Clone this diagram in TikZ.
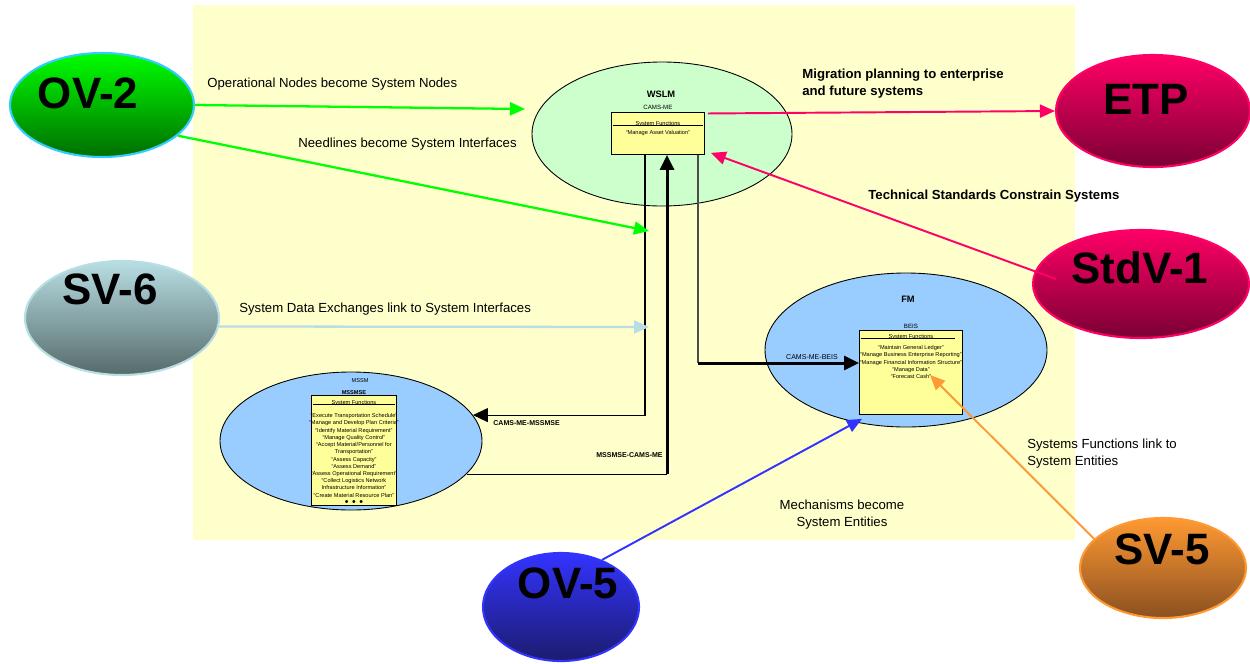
\documentclass[tikz,border=0pt]{standalone}
\usepackage{fontspec}
\setmainfont{Liberation Sans}
\usetikzlibrary{arrows.meta,positioning,shapes.geometric}
\definecolor{canvas}{HTML}{FFFFCC}
\definecolor{wslmgreen}{HTML}{CCFFCC}
\definecolor{sysblue}{HTML}{99CCFF}
\definecolor{fnyellow}{HTML}{FFFF99}
\definecolor{ovgreen}{HTML}{00FF00}
\definecolor{ovgreendk}{HTML}{006E00}
\definecolor{edgecyan}{HTML}{33CCFF}
\definecolor{etpred}{HTML}{FF0066}
\definecolor{etpreddk}{HTML}{7A0033}
\definecolor{svgrey}{HTML}{B8DEE3}
\definecolor{svgreydk}{HTML}{566A6A}
\definecolor{svorange}{HTML}{FF9933}
\definecolor{svorangedk}{HTML}{8A5020}
\definecolor{ovblue}{HTML}{3333FF}
\definecolor{ovbluedk}{HTML}{1C1C6E}
\newcommand{\sz}[2]{\fontsize{#1}{#2}\selectfont}
\tikzset{
  viewpt/.style={ellipse, inner sep=0pt, line width=1.2pt},
  viewtag/.style={font=\sz{25}{30}\bfseries, inner sep=0pt},
  sysnode/.style={ellipse, draw=black, line width=0.5pt, inner sep=0pt},
  sysname/.style={font=\sz{5.3}{6}\bfseries, inner sep=0pt},
  fnbox/.style={draw=black, fill=fnyellow, line width=0.5pt, inner sep=0pt,
                anchor=north west},
  fnowner/.style={font=\sz{3.5}{4}, inner sep=0pt},
  fntitle/.style={font=\sz{3.2}{4}, inner sep=0.4pt},
  fnlist/.style={font=\sz{3.2}{4.1}, align=center, inner sep=0pt},
  note/.style={font=\sz{7.5}{9.6}, align=left, inner sep=0pt},
  wiretag/.style={font=\sz{4}{5}, inner sep=0pt, anchor=base west},
  link/.style={-{Triangle[length=3mm, width=2.6mm]}, line width=1.3pt},
  wire/.style={line width=0.6pt},
  bus/.style={-{Triangle[length=3mm, width=2.8mm]}, line width=1.7pt},
}

\begin{document}
\begin{tikzpicture}[x=0.2mm, y=-0.2mm]
\useasboundingbox (0,0) rectangle (1250,663);
\fill[canvas] (193,5) rectangle (1075,540);

% systems
\node[sysnode, fill=wslmgreen, minimum width=52mm, minimum height=28.8mm] (wslm) at (662,134) {};
\node[sysnode, fill=sysblue, minimum width=56.4mm, minimum height=30.8mm] (fm) at (906,350) {};
\node[sysnode, fill=sysblue, minimum width=52.4mm, minimum height=27.6mm] (mssm) at (351,441) {};

% WSLM functions
\node[sysname] (wslmname) at (661,94) {WSLM};
\node[fnbox, minimum width=18.6mm, minimum height=8.4mm] (wsbox) at (611,112) {};
\node[fnowner, above=0.4mm of wsbox] (wsown) {CAMS-ME};
\node[fntitle, below=1.6mm of wsbox.north] (wsttl) {System Functions};
\draw[line width=0.4pt] ([xshift=0.3mm]wsbox.west |- wsttl.base) -- ([xshift=-0.3mm]wsbox.east |- wsttl.base);
\node[fnlist, below=0.6mm of wsttl] (wsfns) {``Manage Asset Valuation''};

% FM functions
\node[sysname] (fmname) at (908,299) {FM};
\node[fnbox, minimum width=20.6mm, minimum height=16.8mm] (fmbox) at (859,330) {};
\node[fnowner, above=0.3mm of fmbox] (fmown) {BEIS};
\node[fntitle, below=0.6mm of fmbox.north] (fmttl) {System Functions};
\draw[line width=0.4pt] ([xshift=0.3mm]fmbox.west |- fmttl.base) -- ([xshift=-1.6mm]fmbox.east |- fmttl.base);
\node[fnlist, below=1mm of fmttl] (fmfns) {``Maintain General Ledger''\\
  ``Manage Business Enterprise Reporting''\\
  ``Manage Financial Information Structure''\\
  ``Manage Data''\\``Forecast Cash''};

% MSSM functions
\node[fnowner, font=\sz{3.2}{4}] (mssmname) at (360,381) {MSSM};
\node[fnbox, minimum width=17mm, minimum height=22mm] (mssmbox) at (311,395) {};
\node[fnowner, font=\sz{3.2}{4}\bfseries, above=0.1mm of mssmbox] (mssmown) {MSSMSE};
\node[fntitle, below=0.9mm of mssmbox.north] (mssmttl) {System Functions};
\draw[line width=0.4pt] ([xshift=0.3mm]mssmbox.west |- mssmttl.base) -- ([xshift=-0.3mm]mssmbox.east |- mssmttl.base);
\node[fnlist, below=1.3mm of mssmttl] (mssmfns) {``Execute Transportation Schedule''\\
  ``Manage and Develop Plan Criteria''\\
  ``Identify Material Requirement''\\
  ``Manage Quality Control''\\
  ``Accept Material/Personnel for\\Transportation''\\
  ``Assess Capacity''\\``Assess Demand''\\
  ``Assess Operational Requirement''\\
  ``Collect Logistics Network\\Infrastructure Information''\\
  ``Create Material Resource Plan''\\[0.9pt]
  {\sz{6}{4}\textbullet\,\,\textbullet\,\,\textbullet}};

% interfaces between the systems
\draw[wire, -{Triangle[length=3mm, width=2.8mm]}] ([xshift=6.8mm]wsbox.south west) |- (mssm.12);
\node[wiretag, font=\sz{4}{5}\bfseries] (c1tag) at (493,425) {CAMS-ME-MSSMSE};
\coordinate (c2bend) at ([xshift=11.2mm]wsbox.south west |- mssm.-16);
\draw[wire] (mssm.-16) -- (c2bend);
\draw[bus] (c2bend) -- ([xshift=11.2mm]wsbox.south west);
\node[wiretag, font=\sz{4}{5}\bfseries, anchor=base east] (c2tag) at (663,457) {MSSMSE-CAMS-ME};
\coordinate (c3out) at ([xshift=17.4mm]wsbox.south west);
\coordinate (c3in) at ([yshift=-6.6mm]fmbox.north west);
\draw[wire, draw=black!70] (c3out) -- (c3out |- c3in);
\draw[bus] (c3out |- c3in) -- (c3in);
\node[wiretag, anchor=base] (c3tag) at (812,359) {CAMS-ME-BEIS};

% views
\node[viewpt, draw=edgecyan, top color=ovgreen, middle color=ovgreen!80!ovgreendk, bottom color=ovgreendk,
      minimum width=36.8mm, minimum height=20.8mm] (ov2) at (102,105) {};
\node[viewtag] (ov2tag) at (88,93) {OV-2};
\node[viewpt, draw=svgrey, top color=svgrey, middle color=svgrey!75!svgreydk, bottom color=svgreydk,
      minimum width=38.8mm, minimum height=22.8mm] (sv6) at (122,318) {};
\node[viewtag] (sv6tag) at (110,289) {SV-6};
\node[viewpt, draw=etpred, top color=etpred, middle color=etpred!80!etpreddk, bottom color=etpreddk,
      minimum width=38.8mm, minimum height=22.4mm] (etp) at (1153,111) {};
\node[viewtag] (etptag) at (1146,99) {ETP};
\node[viewpt, draw=etpred, top color=etpred, middle color=etpred!80!etpreddk, bottom color=etpreddk,
      minimum width=43.2mm, minimum height=21.6mm] (stdv) at (1141,284) {};
\node[viewtag] (stdvtag) at (1140,268) {StdV-1};
\node[viewpt, draw=svorange, top color=svorange, middle color=svorange!80!svorangedk, bottom color=svorangedk,
      minimum width=33.2mm, minimum height=20mm] (sv5) at (1163,568) {};
\node[viewtag] (sv5tag) at (1162,549) {SV-5};
\node[viewpt, draw=ovblue, top color=ovblue, middle color=ovblue!75!ovbluedk, bottom color=ovbluedk,
      minimum width=31.2mm, minimum height=21.6mm] (ov5) at (561,607) {};
\node[viewtag] (ov5tag) at (568,583) {OV-5};

% how the views feed the system description
\coordinate (wsin) at (525,109);
\coordinate (ifin1) at (649,231);
\coordinate (ifin2) at (649,327);
\draw[link, draw=ovgreen] (ov2.east) -- (wsin);
\node[note, anchor=base west] (opnote) at (207,87) {Operational Nodes become System Nodes};
\draw[link, draw=ovgreen] (ov2.-22) -- (ifin1);
\node[note, anchor=base west] (neednote) at (298,147) {Needlines become System Interfaces};
\draw[link, draw=svgrey] (sv6.-5) -- (ifin2);
\node[note, anchor=base west] (sdxnote) at (239,312) {System Data Exchanges link to System Interfaces};
\draw[link, line width=1.1pt, draw=etpred, shorten <=0.6mm] ([yshift=-0.3mm]wsbox.north east) -- (etp.west);
\node[note, font=\sz{7.5}{9.6}\bfseries, anchor=north west] (migrnote) at (802,69)
  {Migration planning to enterprise\\and future systems};
\draw[link, line width=1.1pt, draw=etpred] ([shift={(4.8mm,1mm)}]stdv.west) -- ([shift={(1.2mm,0.4mm)}]wsbox.south east);
\node[note, font=\sz{7.5}{9.6}\bfseries, anchor=base west] (stdnote) at (868,199) {Technical Standards Constrain Systems};
\draw[link, line width=1.1pt, draw=svorange] (sv5.157) -- ([shift={(14.2mm,-9mm)}]fmbox.north west);
\node[note, anchor=north west] (sv5note) at (1027,439) {Systems Functions link to\\System Entities};
\draw[link, line width=1.1pt, draw=ovblue] (ov5.49) -- ([shift={(0.6mm,-0.8mm)}]fmbox.south west);
\node[note, align=center, anchor=north] (ov5note) at (842,500) {Mechanisms become\\System Entities};
\end{tikzpicture}
\end{document}
